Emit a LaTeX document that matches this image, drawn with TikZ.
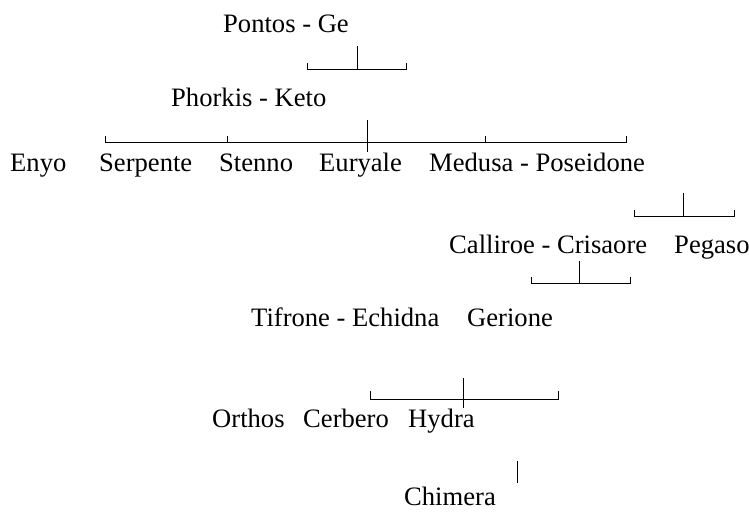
\documentclass[tikz,border=0pt]{standalone}
\usepackage{fontspec}
\setmainfont{Liberation Serif}
\begin{document}
\begin{tikzpicture}[x=1pt,y=-1pt,
  lbl/.style={anchor=base west,inner sep=0pt,font=\fontsize{26.6}{32}\selectfont},
  bracket/.style={draw,line width=1pt}]
\useasboundingbox (0,0) rectangle (749,511);
% names
\node[lbl] (pontos) at (223,33) {Pontos - Ge};
\node[lbl] (phorkis) at (171,106) {Phorkis - Keto};
\node[lbl] (enyo) at (10,171) {Enyo};
\node[lbl] (serpente) at (99,171) {Serpente};
\node[lbl] (stenno) at (219,171) {Stenno};
\node[lbl] (euryale) at (319,171) {Euryale};
\node[lbl] (medusa) at (429,171) {Medusa - Poseidone};
\node[lbl] (calliroe) at (449,253) {Calliroe - Crisaore};
\node[lbl] (pegaso) at (674,253) {Pegaso};
\node[lbl] (tifrone) at (251,326) {Tifrone - Echidna};
\node[lbl] (gerione) at (467,326) {Gerione};
\node[lbl] (orthos) at (212,427.7) {Orthos};
\node[lbl] (cerbero) at (303,427.7) {Cerbero};
\node[lbl] (hydra) at (408,427.7) {Hydra};
\node[lbl] (chimera) at (404,505) {Chimera};
% bracket 1
\coordinate (b1t) at (357,46);
\coordinate (b1m) at (357,69);
\coordinate (b1l) at (307,69);
\coordinate (b1r) at (406,69);
\draw[bracket] (b1t) -- (b1m);
\draw[bracket] ([yshift=6pt]b1l) -- (b1l) -- (b1r) -- ([yshift=6pt]b1r);
% bracket 2
\coordinate (b2t) at (367,120);
\coordinate (b2b) at (367,151.7);
\coordinate (b2l) at (105,142.7);
\coordinate (b2r) at (626,142.7);
\coordinate (b2a) at (227.7,142.7);
\coordinate (b2c) at (485,142.7);
\draw[bracket] (b2t) -- (b2b);
\draw[bracket] ([yshift=7pt]b2l) -- (b2l) -- (b2r) -- ([yshift=7pt]b2r);
\draw[bracket] (b2a) -- ([yshift=7pt]b2a);
\draw[bracket] (b2c) -- ([yshift=7pt]b2c);
% bracket 3
\coordinate (b3t) at (683,193);
\coordinate (b3m) at (683,216);
\coordinate (b3l) at (634,216);
\coordinate (b3r) at (734,216);
\draw[bracket] (b3t) -- (b3m);
\draw[bracket] ([yshift=6pt]b3l) -- (b3l) -- (b3r) -- ([yshift=6pt]b3r);
% bracket 4
\coordinate (b4t) at (579,261);
\coordinate (b4m) at (579,283);
\coordinate (b4l) at (531,283);
\coordinate (b4r) at (630,283);
\draw[bracket] (b4t) -- (b4m);
\draw[bracket] ([yshift=6pt]b4l) -- (b4l) -- (b4r) -- ([yshift=6pt]b4r);
% bracket 5
\coordinate (b5t) at (463,378);
\coordinate (b5b) at (463,407.7);
\coordinate (b5l) at (370,399.3);
\coordinate (b5r) at (558,399.3);
\draw[bracket] (b5t) -- (b5b);
\draw[bracket] ([yshift=8.4pt]b5l) -- (b5l) -- (b5r) -- ([yshift=8.4pt]b5r);
% chimera line
\coordinate (c1) at (517,461);
\coordinate (c2) at (517,483);
\draw[bracket] (c1) -- (c2);
\end{tikzpicture}
\end{document}
